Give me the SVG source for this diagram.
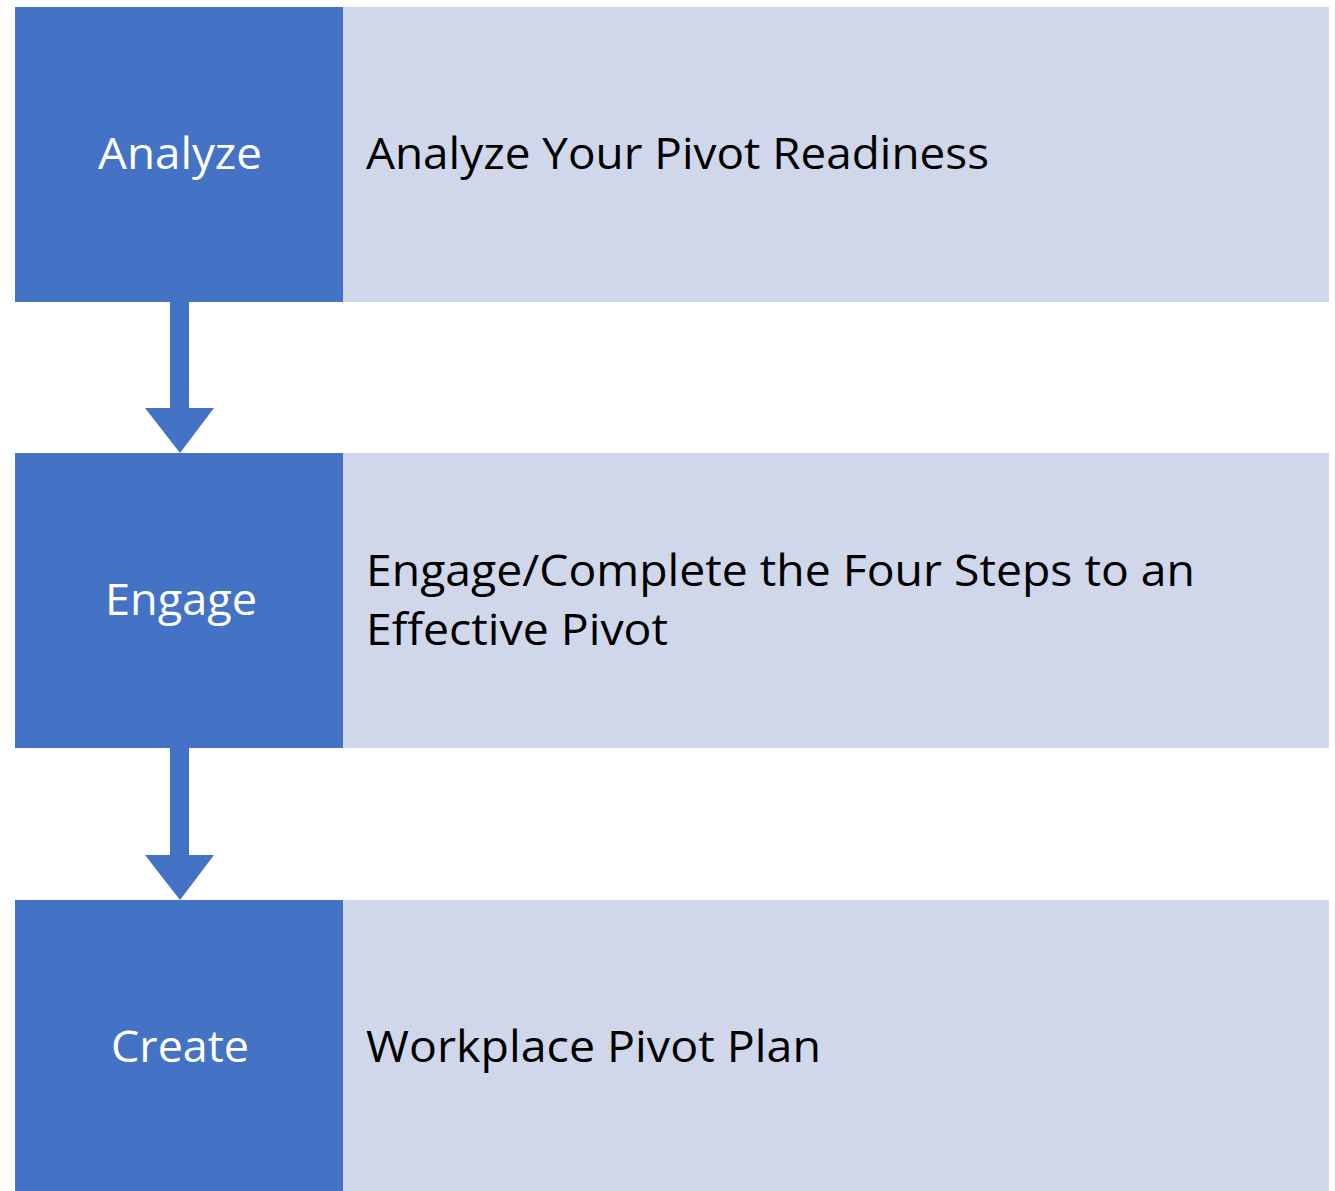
<svg xmlns="http://www.w3.org/2000/svg" width="1335" height="1191" viewBox="0 0 1335 1191">
  <style>
    .step { fill: #4472C4; }
    .detail { fill: #D0D7EB; }
    .step-label { font-family: "Open Sans", "Liberation Sans", sans-serif; font-size: 44px; fill: #FFFFFF; text-anchor: middle; }
    .detail-label { font-family: "Open Sans", "Liberation Sans", sans-serif; font-size: 44px; fill: #000000; }
    .flow { fill: #4472C4; }
  </style>
  <rect width="1335" height="1191" fill="#FFFFFF"/>

  <g id="connectors">
    <path class="flow" d="M170,302 H189 V408 H214 L180,453 L145,408 H170 Z"/>
    <path class="flow" d="M170,748 H189 V855 H214 L180,900 L145,855 H170 Z"/>
  </g>

  <g id="analyze">
    <rect class="detail" x="343" y="7" width="986" height="295"/>
    <rect class="step" x="15" y="7" width="328" height="295"/>
    <text class="step-label" x="180" y="169" textLength="164" lengthAdjust="spacingAndGlyphs">Analyze</text>
    <text class="detail-label" x="366" y="169" textLength="623" lengthAdjust="spacingAndGlyphs">Analyze Your Pivot Readiness</text>
  </g>

  <g id="engage">
    <rect class="detail" x="343" y="453" width="986" height="295"/>
    <rect class="step" x="15" y="453" width="328" height="295"/>
    <text class="step-label" x="181" y="615" textLength="152" lengthAdjust="spacingAndGlyphs">Engage</text>
    <text class="detail-label" x="366" y="586" textLength="829" lengthAdjust="spacingAndGlyphs">Engage/Complete the Four Steps to an</text>
    <text class="detail-label" x="366" y="645" textLength="302" lengthAdjust="spacingAndGlyphs">Effective Pivot</text>
  </g>

  <g id="create">
    <rect class="detail" x="343" y="900" width="986" height="295"/>
    <rect class="step" x="15" y="900" width="328" height="295"/>
    <text class="step-label" x="180" y="1062" textLength="138" lengthAdjust="spacingAndGlyphs">Create</text>
    <text class="detail-label" x="366" y="1062" textLength="455" lengthAdjust="spacingAndGlyphs">Workplace Pivot Plan</text>
  </g>
</svg>
